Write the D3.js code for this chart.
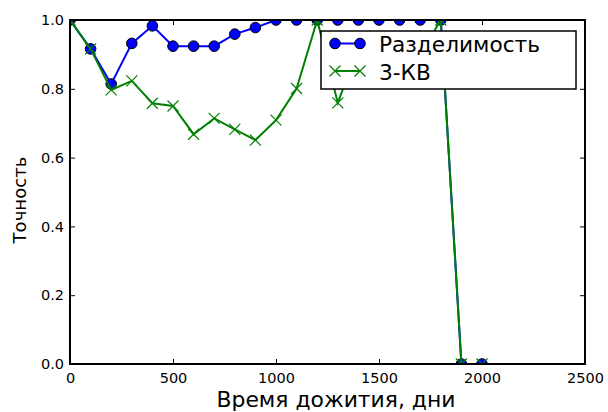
<!DOCTYPE html>
<html>
<head>
<meta charset="utf-8">
<script src="https://cdn.jsdelivr.net/npm/d3@7"></script>
<style>
  body { margin: 0; background: #fff; }
  text { font-family: "DejaVu Sans", sans-serif; fill: #000; }
</style>
</head>
<body>
<svg id="chart" width="608" height="412"></svg>
<script>
// Survival time (days) and accuracy of the two methods
var days = [0, 100, 200, 300, 400, 500, 600, 700, 800, 900, 1000, 1100, 1200, 1300, 1400, 1500, 1600, 1700, 1800, 1900, 2000];
var separability = [1.0, 0.916, 0.814, 0.932, 0.983, 0.924, 0.924, 0.924, 0.959, 0.978, 1.0, 1.0, 1.0, 1.0, 1.0, 1.0, 1.0, 1.0, 1.0, 0.0, 0.0];
var kv3 = [1.0, 0.916, 0.797, 0.823, 0.758, 0.750, 0.668, 0.714, 0.682, 0.651, 0.709, 0.801, 1.0, 0.759, 0.92, 0.9, 0.9, 0.9, 1.0, 0.0, 0.0];
var xTicks = [0, 500, 1000, 1500, 2000, 2500];
var yTicks = [0.0, 0.2, 0.4, 0.6, 0.8, 1.0];
var seriesNames = ['Разделимость', '3-КВ'];

var svg = d3.select('#chart');
var margin = {left: 70, right: 23, top: 20, bottom: 48};
var width = 608 - margin.left - margin.right;
var height = 412 - margin.top - margin.bottom;

var g = svg.append('g')
    .attr('transform', 'translate(' + margin.left + ',' + margin.top + ')');

var x = d3.scaleLinear().domain([0, 2500]).range([0, width]);
var y = d3.scaleLinear().domain([0, 1]).range([height, 0]);

// Clip to axes area like matplotlib
svg.append('defs').append('clipPath').attr('id', 'clip')
    .append('rect').attr('width', width).attr('height', height);

// Ticks on all four sides, pointing inside
var tickLen = 5;
g.append('g')
    .attr('transform', 'translate(0,' + height + ')')
    .call(d3.axisBottom(x).tickValues(xTicks).tickSize(-tickLen).tickPadding(9).tickFormat(d3.format('d')))
    .call(function(a){ a.select('.domain').remove(); });
g.append('g')
    .call(d3.axisTop(x).tickValues(xTicks).tickSize(-tickLen).tickFormat(''))
    .call(function(a){ a.select('.domain').remove(); });
g.append('g')
    .call(d3.axisLeft(y).tickValues(yTicks).tickSize(-tickLen).tickPadding(6).tickFormat(d3.format('.1f')))
    .call(function(a){ a.select('.domain').remove(); });
g.append('g')
    .attr('transform', 'translate(' + width + ',0)')
    .call(d3.axisRight(y).tickValues(yTicks).tickSize(-tickLen).tickFormat(''))
    .call(function(a){ a.select('.domain').remove(); });

g.selectAll('.tick line').attr('stroke', '#000').attr('stroke-width', 1);
g.selectAll('.tick text').attr('font-size', '14.5px').attr('fill', '#000')
    .style('font-family', '"DejaVu Sans", sans-serif');

var plot = g.append('g').attr('clip-path', 'url(#clip)');

var line = d3.line()
    .x(function(d){ return x(d[0]); })
    .y(function(d){ return y(d[1]); });

var blueData = days.map(function(d, i){ return [d, separability[i]]; });
var greenData = days.map(function(d, i){ return [d, kv3[i]]; });

// Separability series (blue, circles)
plot.append('path').datum(blueData)
    .attr('fill', 'none').attr('stroke', '#0000ff').attr('stroke-width', 2)
    .attr('d', line);
plot.append('g').selectAll('circle').data(blueData).enter().append('circle')
    .attr('cx', function(d){ return x(d[0]); })
    .attr('cy', function(d){ return y(d[1]); })
    .attr('r', 5.3)
    .attr('fill', '#0000ff').attr('stroke', '#000').attr('stroke-width', 1);

// 3-KV series (green, x markers)
var xMark = function(cx, cy){
    var s = 5.5;
    return 'M' + (cx - s) + ',' + (cy - s) + 'L' + (cx + s) + ',' + (cy + s) +
           'M' + (cx - s) + ',' + (cy + s) + 'L' + (cx + s) + ',' + (cy - s);
};
plot.append('path').datum(greenData)
    .attr('fill', 'none').attr('stroke', '#008000').attr('stroke-width', 2)
    .attr('d', line);
plot.append('g').selectAll('path').data(greenData).enter().append('path')
    .attr('d', function(d){ return xMark(x(d[0]), y(d[1])); })
    .attr('fill', 'none').attr('stroke', '#008000').attr('stroke-width', 1.2);

// Axes frame
g.append('rect')
    .attr('width', width).attr('height', height)
    .attr('fill', 'none').attr('stroke', '#000').attr('stroke-width', 2);

// Scale the font so the text gets the wanted width
function fitSize(sel, target){
    var fs = parseFloat(sel.attr('font-size'));
    var w = sel.node().getComputedTextLength();
    sel.attr('font-size', (fs * target / w) + 'px');
}

// Axis labels
var xLabel = svg.append('text')
    .attr('x', 336).attr('y', 407)
    .attr('text-anchor', 'middle').attr('font-size', '20px')
    .text('Время дожития, дни');
fitSize(xLabel, 239);
var yLabel = svg.append('text')
    .attr('transform', 'translate(26,200) rotate(-90)')
    .attr('text-anchor', 'middle').attr('font-size', '20px')
    .text('Точность');
fitSize(yLabel, 87);

// Legend
var legend = g.append('g').attr('transform', 'translate(251,11)');
legend.append('rect')
    .attr('width', 255).attr('height', 58)
    .attr('fill', '#fff').attr('stroke', '#000').attr('stroke-width', 1.5);
var legendRows = [
    {name: seriesNames[0], color: '#0000ff', marker: 'circle'},
    {name: seriesNames[1], color: '#008000', marker: 'x'}
];
var legendSize = 21;
legendRows.forEach(function(r, i){
    var ly = 12.5 + i * 27.5;
    var row = legend.append('g').attr('transform', 'translate(0,' + ly + ')');
    row.append('line').attr('x1', 14).attr('x2', 39).attr('y1', 0).attr('y2', 0)
        .attr('stroke', r.color).attr('stroke-width', 2);
    [14, 39].forEach(function(px){
        if (r.marker === 'circle') {
            row.append('circle').attr('cx', px).attr('cy', 0).attr('r', 5.3)
                .attr('fill', r.color).attr('stroke', '#000').attr('stroke-width', 1);
        } else {
            row.append('path').attr('d', xMark(px, 0))
                .attr('fill', 'none').attr('stroke', r.color).attr('stroke-width', 1.2);
        }
    });
    var t = row.append('text').attr('x', 58).attr('y', 8.5).attr('font-size', legendSize + 'px').text(r.name);
    if (i === 0) { fitSize(t, 161); legendSize = parseFloat(t.attr('font-size')); }
});
</script>
</body>
</html>
